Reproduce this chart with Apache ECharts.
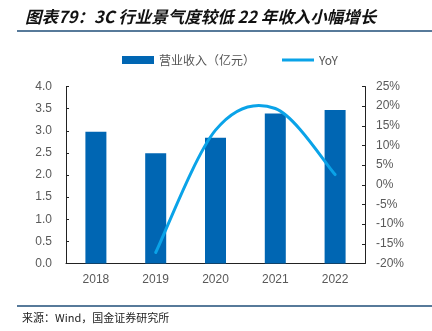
<!DOCTYPE html>
<html><head><meta charset="utf-8">
<script src="https://cdn.jsdelivr.net/npm/echarts@6/dist/echarts.min.js"></script>
<style>html,body{margin:0;padding:0;background:#fff}#c{width:432px;height:331px}</style>
</head><body><div id="c"></div>
<script>
const categories = ['2018','2019','2020','2021','2022'];
const revenue = [2.98, 2.49, 2.84, 3.39, 3.47];
const yoyDates = ['2019','2020','2021','2022'];
const yoy = [-17.2, 13.9, 19.4, 2.6];
const yoyData = yoy.map((v, i) => [categories.indexOf(yoyDates[i]), v]);

const chart = echarts.init(document.getElementById('c'), null, {renderer:'canvas'});
const font = '"Noto Sans CJK SC", "Liberation Sans", sans-serif';
const numFont = '"Liberation Sans", Arial, sans-serif';
const lineColor = '#0aa3e8';

function renderSmooth(params, api) {
  if (params.dataIndex !== 0) return {type: 'group', children: []};
  const p = yoyData.map(d => api.coord(d));
  const n = p.length;
  let d = 'M' + p[0][0] + ',' + p[0][1];
  for (let i = 0; i < n - 1; i++) {
    const p0 = p[Math.max(i - 1, 0)], p1 = p[i], p2 = p[i + 1], p3 = p[Math.min(i + 2, n - 1)];
    const c1x = p1[0] + (p2[0] - p0[0]) / 6, c1y = p1[1] + (p2[1] - p0[1]) / 6;
    const c2x = p2[0] - (p3[0] - p1[0]) / 6, c2y = p2[1] - (p3[1] - p1[1]) / 6;
    d += ' C' + c1x + ',' + c1y + ' ' + c2x + ',' + c2y + ' ' + p2[0] + ',' + p2[1];
  }
  return {type: 'path', z2: 10, shape: {pathData: d},
          style: {stroke: lineColor, lineWidth: 3, fill: 'none', lineCap: 'round'}};
}

chart.setOption({
  animation: false,
  title: {
    text: '图表79：3C 行业景气度较低 22 年收入小幅增长',
    left: 20, top: 3,
    textStyle: {fontSize: 16.5, fontWeight: 'bold', fontStyle: 'italic', color: '#111', fontFamily: font}
  },
  graphic: [
    {type:'line', shape:{x1:17,y1:31,x2:432,y2:31}, style:{stroke:'#1f4e79', lineWidth:1.5}},
    {type:'line', shape:{x1:17,y1:306,x2:432,y2:306}, style:{stroke:'#1f4e79', lineWidth:1.5}},
    {type:'text', left: 22, top: 312, style:{text:'来源：Wind，国金证券研究所', fontSize: 11, fill:'#222', fontFamily: font}}
  ],
  legend: {
    top: 49, left: 117, itemGap: 27,
    itemWidth: 32, itemHeight: 8,
    textStyle: {fontSize: 12, color: '#555', fontFamily: font},
    data: [
      {name: '营业收入（亿元）', icon: 'rect'},
      {name: 'YoY', icon: 'path://M0,0 L32,0 L32,3 L0,3 Z', itemStyle: {color: lineColor}}
    ]
  },
  grid: {left: 66, right: 67, top: 86.5, bottom: 67.5},
  xAxis: {
    type: 'category', data: categories,
    axisLine: {lineStyle: {color: '#222'}},
    axisTick: {inside: true, length: 3, lineStyle: {color: '#222'}},
    axisLabel: {color: '#595959', fontSize: 12, margin: 10, fontFamily: numFont}
  },
  yAxis: [
    {type: 'value', min: 0, max: 4, interval: 0.5,
     axisLine: {show: true, lineStyle: {color: '#222'}},
     axisTick: {show: true, inside: true, length: 3, lineStyle: {color: '#222'}},
     splitLine: {show: false},
     axisLabel: {color: '#595959', fontSize: 12, margin: 14, fontFamily: numFont, formatter: v => v.toFixed(1)}},
    {type: 'value', min: -20, max: 25, interval: 5,
     axisLine: {show: true, lineStyle: {color: '#222'}},
     axisTick: {show: true, inside: true, length: 3, lineStyle: {color: '#222'}},
     splitLine: {show: false},
     axisLabel: {color: '#595959', fontSize: 12, margin: 11, fontFamily: numFont, formatter: v => v + '%'}}
  ],
  series: [
    {name: '营业收入（亿元）', type: 'bar', data: revenue, barWidth: 21, z: 2,
     itemStyle: {color: '#0066b3'}},
    {name: 'YoY', type: 'custom', yAxisIndex: 1, data: yoyData, z: 5, clip: false,
     encode: {x: 0, y: 1}, renderItem: renderSmooth,
     itemStyle: {color: lineColor}}
  ]
});
</script></body></html>
